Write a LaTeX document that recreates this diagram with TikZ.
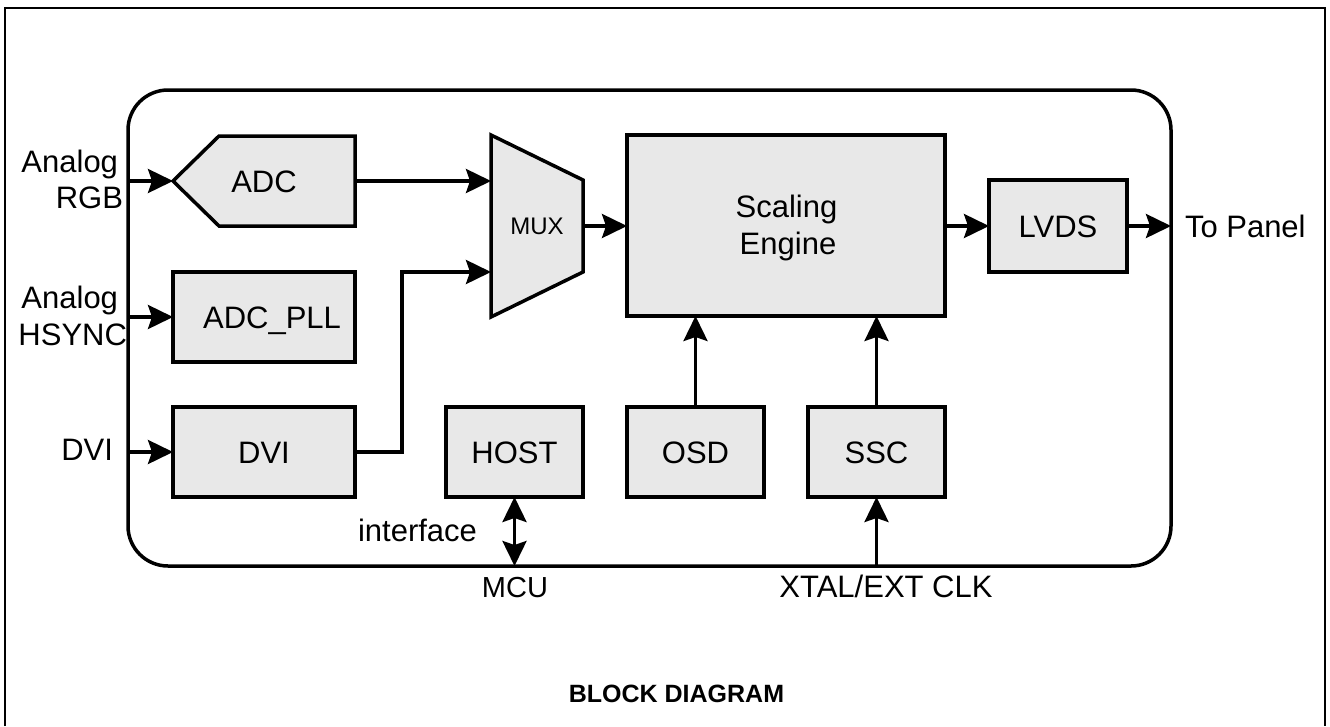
\documentclass[tikz,border=0pt]{standalone}
\usepackage{fontspec}
\setmainfont{Liberation Sans}
\usetikzlibrary{arrows.meta,calc}
\definecolor{boxfill}{RGB}{232,232,232}
\pgfdeclarelayer{background}
\pgfsetlayers{background,main}
\begin{document}
\begin{tikzpicture}[x=1pt,y=-1pt,
  lbl/.style={inner sep=0pt, outer sep=0pt, font=\fontsize{31}{37}\selectfont},
  blk/.style={lbl, draw, fill=boxfill, line width=3.5pt, text height=22pt, text depth=0pt},
  shapepath/.style={draw, fill=boxfill, line width=3.5pt, line join=miter},
  sigtip/.tip={Stealth[length=25pt,width=24pt,inset=4pt]},
  sig/.style={line width=3.5pt, -sigtip},
]
\useasboundingbox (0,0) rectangle (1330,726);

% outer frame (open at the bottom)
\draw[line width=2pt] (5,726) -- (5,8) -- (1325,8) -- (1325,726);

% chip outline
\node[draw, line width=3.5pt, rounded corners=40pt, minimum width=1043pt,
      minimum height=476pt, inner sep=0pt, outer sep=0pt] (chip) at (649.5,328) {};

% ADC (pentagon with pointed input side)
\node[lbl, minimum width=182pt, minimum height=90pt, text height=22pt, text depth=0pt] (adc) at (264,181) {ADC};
\begin{pgfonlayer}{background}
  \path[shapepath] ($(adc.north west)+(46,0)$) -- (adc.north east) -- (adc.south east)
    -- ($(adc.south west)+(46,0)$) -- (adc.west) -- cycle;
\end{pgfonlayer}

% rectangular blocks
\node[blk, minimum width=182pt, minimum height=90pt] (pll) at (264,317) {\hspace*{16pt}ADC\_PLL};
\node[blk, minimum width=182pt, minimum height=90pt] (dvi) at (264,452) {DVI};
\node[blk, minimum width=318pt, minimum height=181pt] (se) at (786,225.5) {};
\node[lbl, anchor=base] (setxt1) at (786.5,217) {Scaling};
\node[lbl, anchor=base] (setxt2) at (788,254) {Engine};
\node[blk, minimum width=138pt, minimum height=92pt] (lvds) at (1058,226) {LVDS};
\node[blk, minimum width=137pt, minimum height=90pt] (host) at (514.5,452) {HOST};
\node[blk, minimum width=137pt, minimum height=90pt] (osd) at (695.5,452) {OSD};
\node[blk, minimum width=137pt, minimum height=90pt] (ssc) at (876.5,452) {SSC};

% MUX (trapezoid)
\node[lbl, font=\fontsize{24}{28}\selectfont, minimum width=92pt, minimum height=182pt,
      text height=17pt, text depth=0pt] (mux) at (537,226) {MUX};
\begin{pgfonlayer}{background}
  \path[shapepath] (mux.north west) -- ($(mux.north east)+(0,45)$)
    -- ($(mux.south east)+(0,-45)$) -- (mux.south west) -- cycle;
\end{pgfonlayer}

% input labels
\node[lbl, anchor=base east] (inrgba) at (118,172) {Analog};
\node[lbl, anchor=base east] (inrgbb) at (123,208) {RGB};
\node[lbl, anchor=base east] (inhsa) at (118,308) {Analog};
\node[lbl, anchor=base east] (inhsb) at (127,345) {HSYNC};
\node[lbl, anchor=base east] (indvi) at (113,460) {DVI};

% output and interface labels
\node[lbl, anchor=west, text height=22pt, text depth=0pt] (topanel) at (1185,226) {To Panel};
\node[lbl, anchor=base] (iface) at (417.5,541) {interface};
\node[lbl, anchor=base, font=\fontsize{29}{34}\selectfont] (mcu) at (515,597) {MCU};
\node[lbl, anchor=base] (xtal) at (886,597) {XTAL/EXT CLK};
\node[lbl, anchor=base, font=\fontsize{25}{30}\selectfont\bfseries] (title) at (676.5,702) {BLOCK DIAGRAM};

% signal connectors
\draw[sig] (chip.west |- adc.west) -- (adc.west);
\draw[sig] (chip.west |- pll.west) -- (pll.west);
\draw[sig] (chip.west |- dvi.west) -- (dvi.west);
\draw[sig] (adc.east) -- (adc.east -| mux.west);
\draw[sig] (dvi.east) -- ++(47,0) |- ($(mux.west)+(0,46)$);
\draw[sig] (mux.east) -- (mux.east -| se.west);
\draw[sig] (se.east |- lvds.west) -- (lvds.west);
\draw[sig] (lvds.east) -- (lvds.east -| chip.east);
\draw[sig] (osd.north) -- (osd.north |- se.south);
\draw[sig] (ssc.north) -- (ssc.north |- se.south);
\draw[sig] (ssc.south |- chip.south) -- (ssc.south);
\draw[line width=3.5pt, sigtip-sigtip] (host.south) -- (host.south |- chip.south);
\end{tikzpicture}
\end{document}
